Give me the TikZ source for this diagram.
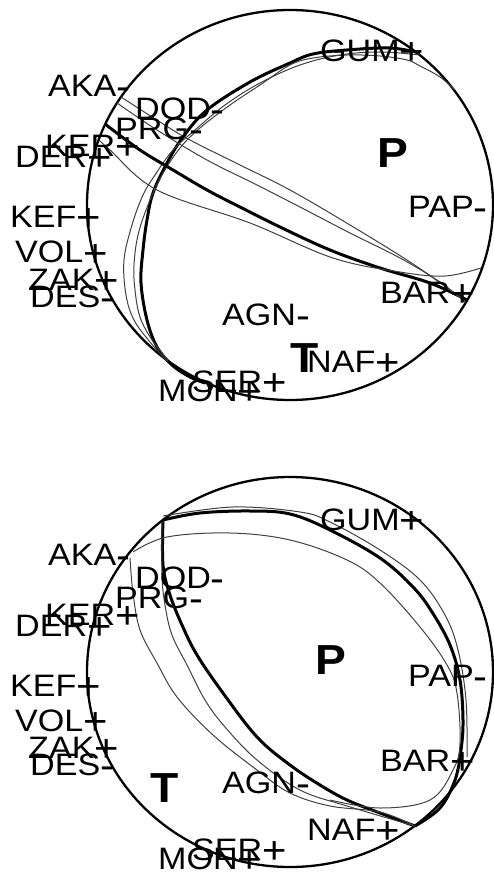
\documentclass[tikz,border=0pt]{standalone}
\usepackage{fontspec}
\setmainfont{Liberation Sans}
\newfontfamily\stafont[FakeStretch=1.1]{Liberation Sans}
\tikzset{
  ball/.style={line width=2.3pt},
  plane/.style={line width=3pt, line join=round},
  alt/.style={line width=1pt, black!75},
  sta/.style={anchor=base west, inner sep=0pt, font=\stafont\fontsize{31}{31}\selectfont},
  axislbl/.style={anchor=base west, inner sep=0pt, font=\stafont\bfseries\fontsize{42}{42}\selectfont},
}
% polarity marks, a bit larger than the names
\newcommand{\polp}{\raisebox{-3pt}{\fontsize{38}{38}\selectfont+}}
\newcommand{\polm}{\raisebox{-3pt}{\fontsize{38}{38}\selectfont-}}
\newcommand{\stations}{%
  \foreach \nm/\x/\y/\sg in {AKA/48/97/m, DOD/135/120/m, PRG/115/140/m,
      KER/45/157/p, DER/15/168/p, KEF/10/228/p, VOL/15/263/p, ZAK/28/290/p,
      DES/30/307/m, GUM/320/62/p, PAP/408/218/m, BAR/380/303/p,
      AGN/222/325/m, NAF/307/372/p, SER/192/392/p, MON/158/401/p} {
    \node[sta] (\nm) at (\x,\y) {\nm\csname pol\sg\endcsname};
  }}

\begin{document}
\begin{tikzpicture}[x=1pt,y=-1pt]
  \useasboundingbox (0,0) rectangle (494,874);

  % upper solution
  \draw[ball] (290,205) ellipse [x radius=203, y radius=195];
  \draw[plane] plot[smooth, tension=0.6] coordinates {(420,53) (390,48) (347,50) (313,54) (290,63) (250,82) (207,110) (183,137) (167,163) (153,193) (147,220) (143,250) (141,283) (147,320) (157,347) (172,365) (190,377) (205,383)};
  \draw[alt] plot[smooth, tension=0.6] coordinates {(420,55) (380,52) (340,55) (300,65) (260,83) (225,105) (195,130) (173,150) (155,175) (143,195) (132,225) (124,260) (126,295) (134,320) (150,342) (168,362)};
  \draw[alt] plot[smooth, tension=0.6] coordinates {(455,90) (440,77) (420,66) (407,60) (380,56) (347,55) (313,58) (290,65) (260,85) (230,105) (200,128) (180,148) (162,175) (148,205) (138,235) (134,265) (135,290) (140,317) (152,340) (168,360)};
  \draw[plane] plot[smooth, tension=0.6] coordinates {(105,124) (140,150) (173,170) (207,190) (240,207) (280,227) (330,250) (380,268) (430,283) (467,300)};
  \draw[alt] plot[smooth, tension=0.6] coordinates {(117,103) (157,130) (207,160) (257,185) (300,207) (350,233) (400,258) (440,282) (465,302)};
  \draw[alt] plot[smooth, tension=0.6] coordinates {(121,97) (160,122) (190,140) (240,165) (290,190) (350,225) (410,262) (450,290) (466,302)};
  \draw[alt] plot[smooth, tension=0.6] coordinates {(99,140) (110,150) (157,190) (250,223) (333,258) (400,272) (445,276) (481,268)};
  \begin{scope}[name prefix=top-]
    \stations
  \end{scope}
  \node[axislbl] (topP) at (377,168) {P};
  \node[axislbl] (topT) at (290,372) {T};

  % lower solution
  \draw[ball] (290,672) ellipse [x radius=203, y radius=195];
  \draw[plane] plot[smooth, tension=0.6] coordinates {(163,520) (163,565) (170,595) (182,625) (197,655) (223,693) (257,737) (290,765) (320,785) (347,800) (380,813) (415,826)};
  \draw[alt] plot[smooth, tension=0.6] coordinates {(130,558) (133,593) (140,630) (157,663) (177,697) (213,735) (257,770) (290,793) (330,806) (380,812) (415,826)};
  \draw[alt] plot[smooth, tension=0.6] coordinates {(162,522) (162,575) (165,605) (172,635) (187,665) (205,700) (225,727) (257,760) (300,790) (347,806) (415,826)};
  \draw[plane] plot[smooth, tension=0.6] coordinates {(163,520) (200,513) (250,511) (290,514) (330,530) (380,558) (413,587) (432,612) (450,645) (460,680) (463,720) (461,750) (455,780) (440,808) (415,826)};
  \draw[alt] plot[smooth, tension=0.6] coordinates {(163,516) (233,507) (300,512) (330,522) (380,550) (420,580) (445,615) (458,650) (466,700) (467,757)};
  \draw[alt] plot[smooth, tension=0.6] coordinates {(133,552) (167,537) (230,533) (290,540) (347,560) (380,583) (420,627) (447,665) (457,693) (460,743) (453,770) (430,800) (380,808) (330,800)};
  \begin{scope}[shift={(0,468)}, name prefix=bot-]
    \stations
  \end{scope}
  \node[axislbl] (botP) at (315,674) {P};
  \node[axislbl] (botT) at (150,802) {T};
\end{tikzpicture}
\end{document}
